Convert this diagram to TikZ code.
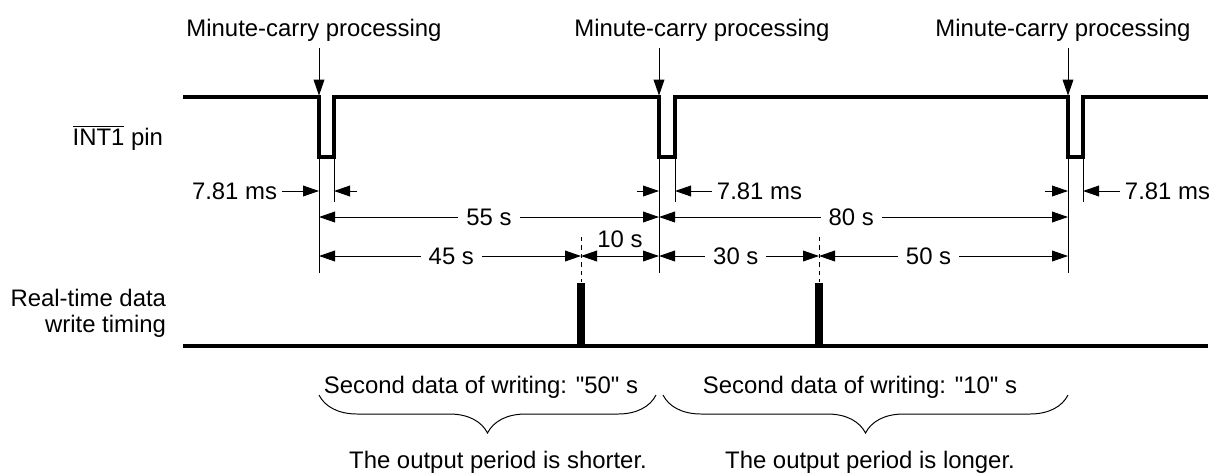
\documentclass[tikz,border=0pt]{standalone}
\usepackage{fontspec}
\setmainfont{Liberation Sans}
\usetikzlibrary{positioning,arrows.meta,decorations.pathreplacing}

\tikzset{
  wave/.style={line width=2.2pt},
  thinline/.style={line width=0.7pt},
  dimlbl/.style={fill=white,inner xsep=0.2cm,inner ysep=1pt},
  writepulse/.style={line width=5pt},
  brc/.style={thinline,decorate,decoration={brace,mirror,amplitude=0.95cm}}
}

\begin{document}
\begin{tikzpicture}[x=0.025cm,y=-0.025cm,>={Triangle[length=0.4cm,width=0.27cm]},
  font=\fontsize{17}{18.5}\selectfont]
\useasboundingbox (0,0) rectangle (1215,475);

% pulse edges of INT1
\coordinate (a1) at (319,97); \coordinate (b1) at (334,97);
\coordinate (a2) at (659,97); \coordinate (b2) at (675,97);
\coordinate (a3) at (1068,97); \coordinate (b3) at (1083,97);
\coordinate (s1) at (183,97); \coordinate (e1) at (1208,97);

% write pulses
\coordinate (w1) at (581,346); \coordinate (w2) at (819,346);
\coordinate (s2) at (183,346); \coordinate (e2) at (1208,346);

% labels on the left
\node[anchor=east] (int) at (168,138) {$\overline{\mbox{INT1}}$ pin};
\node[anchor=east,align=right] (rt) at (171,313) {Real-time data\\write timing};

% minute carry
\node (mc1) at (314,30) {Minute-carry processing};
\node (mc2) at (702,30) {Minute-carry processing};
\node (mc3) at (1063,30) {Minute-carry processing};
\draw[thinline,->,shorten >=1pt] (a1|-0,48) -- (a1);
\draw[thinline,->,shorten >=1pt] (a2|-0,48) -- (a2);
\draw[thinline,->,shorten >=1pt] (a3|-0,48) -- (a3);

% INT1 waveform
\draw[wave] (s1) -- (a1) -- ++(0,60) -| (b1) -- (a2) -- ++(0,60) -| (b2)
  -- (a3) -- ++(0,60) -| (b3) -- (e1);

% extension lines
\foreach \p in {a1,a2,a3}
  \draw[thinline] ([yshift=-60*0.025cm]\p) -- (\p|-0,273);
\foreach \p in {b1,b2,b3}
  \draw[thinline] ([yshift=-60*0.025cm]\p) -- (\p|-0,202);

% 7.81 ms
\node[anchor=east] (ms1) at (282,191) {7.81 ms};
\draw[thinline,->] (ms1) -- (a1|-ms1);
\draw[thinline,->] (357,191) -- (b1|-ms1);
\node[anchor=west] (ms2) at (712,191) {7.81 ms};
\draw[thinline,->] (637,191) -- (a2|-ms2);
\draw[thinline,->] (ms2) -- (b2|-ms2);
\node[anchor=west] (ms3) at (1120,191) {7.81 ms};
\draw[thinline,->] (1045,191) -- (a3|-ms3);
\draw[thinline,->] (ms3) -- (b3|-ms3);

% periods
\draw[thinline,<->] (a1|-0,217) -- node[dimlbl,pos=.5] {55 s} (a2|-0,217);
\draw[thinline,<->] (a2|-0,217) -- node[dimlbl,pos=.47] {80 s} (a3|-0,217);
\draw[thinline,<->] (a1|-0,256) -- node[dimlbl,pos=.505] {45 s} (w1|-0,256);
\draw[thinline,<->] (w1|-0,256) -- node[above,inner ysep=0.2cm] {10 s} (a2|-0,256);
\draw[thinline,<->] (a2|-0,256) -- node[dimlbl,pos=.48] {30 s} (w2|-0,256);
\draw[thinline,<->] (w2|-0,256) -- node[dimlbl,pos=.44] {50 s} (a3|-0,256);
\draw[thinline,dashed] (w1|-0,237) -- (w1|-0,282);
\draw[thinline,dashed] (w2|-0,237) -- (w2|-0,282);

% write timing
\draw[wave] (s2) -- (e2);
\draw[writepulse] (w1) -- (w1|-0,283);
\draw[writepulse] (w2) -- (w2|-0,283);

% second data
\node (sd1) at (481,387) {Second data of writing: \textquotedbl 50\textquotedbl{} s};
\node (sd2) at (860,387) {Second data of writing: \textquotedbl 10\textquotedbl{} s};
\draw[brc] (319,395) -- (656,395);
\draw[brc] (663,395) -- (1068,395);
\node (op1) at (498,462) {The output period is shorter.};
\node (op2) at (870,462) {The output period is longer.};
\end{tikzpicture}
\end{document}
